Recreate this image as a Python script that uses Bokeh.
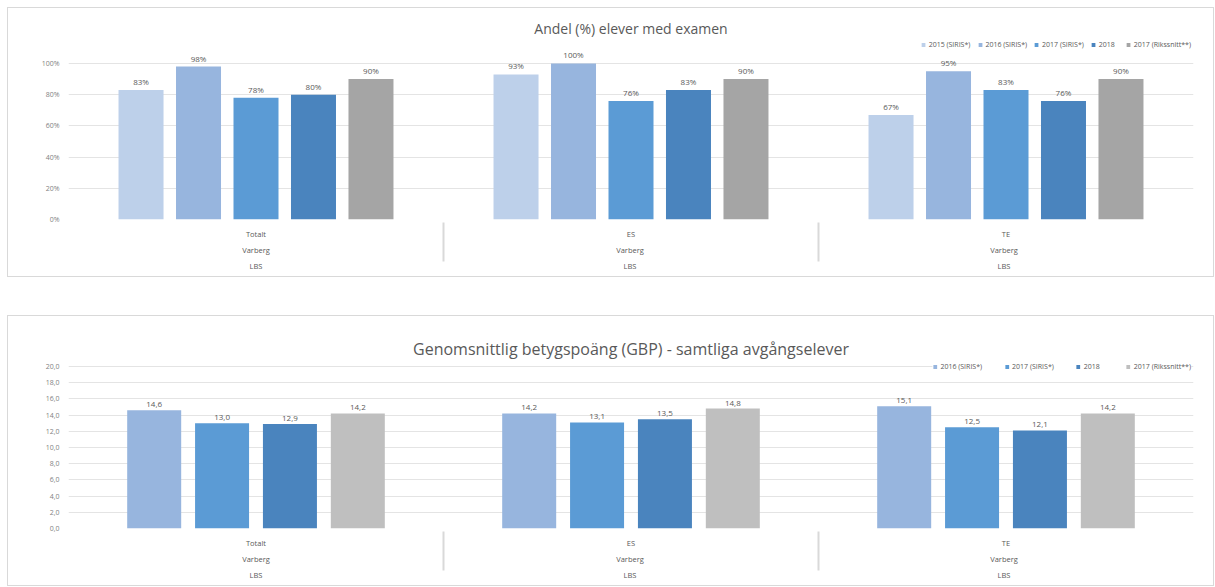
from bokeh.plotting import figure
from bokeh.models import (FactorRange, ColumnDataSource, Legend, LegendItem,
                          CustomJSTickFormatter, FixedTicker, Range1d, Spacer, Title)
from bokeh.transform import dodge
from bokeh.layouts import column, row
from bokeh.core.properties import value
from bokeh.embed import file_html
from bokeh.resources import INLINE

# ---------------- data ----------------
groups = ["Totalt", "ES", "TE"]
mid_label = "Varberg"
outer_label = "LBS"

andel_series = ["2015 (SIRIS*)", "2016 (SIRIS*)", "2017 (SIRIS*)", "2018", "2017 (Rikssnitt**)"]
andel_2015 = [83, 93, 67]
andel_2016 = [98, 100, 95]
andel_2017 = [78, 76, 83]
andel_2018 = [80, 83, 76]
andel_riks = [90, 90, 90]
andel_ticks = [0, 20, 40, 60, 80, 100]

gbp_series = ["2016 (SIRIS*)", "2017 (SIRIS*)", "2018", "2017 (Rikssnitt**)"]
gbp_2016 = [14.6, 14.2, 15.1]
gbp_2017 = [13.0, 13.1, 12.5]
gbp_2018 = [12.9, 13.5, 12.1]
gbp_riks = [14.2, 14.8, 14.2]
gbp_ticks = [0, 2, 4, 6, 8, 10, 12, 14, 16, 18, 20]

FONT = "Open Sans"
TEXT = "#595959"
AXIS_TEXT = "#7f7f7f"

# unique factors per group (same visible text, separate cells like the original)
factors = [(outer_label + " " * i, mid_label + " " * i, g) for i, g in enumerate(groups)]


def make_chart(title, title_size, series_names, series_vals, colors, labels_fmt,
               y_end, ticks, tick_code, height, top_border, bottom_border,
               stride, bar_w, legend_spacing):
    p = figure(x_range=FactorRange(*factors, range_padding=0, group_padding=0,
                                   subgroup_padding=0, factor_padding=0),
               y_range=Range1d(0, y_end),
               width=1205, height=height, output_backend="svg",
               toolbar_location=None, title=None)
    p.min_border_left = 60
    p.min_border_right = 20
    p.min_border_top = top_border
    p.min_border_bottom = bottom_border
    p.outline_line_color = None
    p.border_fill_color = "white"
    p.styles = {"box-shadow": "0 0 0 1px #d9d9d9"}

    n = len(series_names)
    items = []
    for i, (name, vals, col) in enumerate(zip(series_names, series_vals, colors)):
        off = (i - (n - 1) / 2) * stride
        src = ColumnDataSource(dict(x=factors, y=vals, lab=[labels_fmt(v) for v in vals]))
        r = p.vbar(x=dodge("x", off, range=p.x_range), top="y", width=bar_w,
                   color=col, line_color=None, source=src)
        p.text(x=dodge("x", off, range=p.x_range), y="y", text="lab", source=src,
               text_align="center", text_baseline="bottom", y_offset=-3,
               text_font_size="8px", text_color=TEXT, text_font=value(FONT))
        items.append(LegendItem(label=name, renderers=[r]))

    legend = Legend(items=items, orientation="horizontal", location="top_right",
                    margin=2, padding=0, spacing=legend_spacing,
                    glyph_width=5, glyph_height=5, label_standoff=3,
                    label_text_font_size="7px", label_text_color=TEXT,
                    label_text_font=FONT, border_line_color=None,
                    background_fill_color="white", background_fill_alpha=1.0,
                    label_height=8)
    p.add_layout(legend)

    t = Title(text=title, align="center", text_font_size=title_size,
              text_font=FONT, text_color=TEXT, text_font_style="normal",
              standoff=2)
    p.add_layout(t, "above")

    p.yaxis.ticker = FixedTicker(ticks=ticks)
    p.yaxis.formatter = CustomJSTickFormatter(code=tick_code)
    p.yaxis.axis_line_color = None
    p.yaxis.major_tick_line_color = None
    p.yaxis.minor_tick_line_color = None
    p.yaxis.major_label_text_font_size = "7px"
    p.yaxis.major_label_text_color = AXIS_TEXT
    p.yaxis.major_label_text_font = FONT
    p.yaxis.major_label_standoff = 3

    p.ygrid.ticker = FixedTicker(ticks=ticks)
    p.ygrid.grid_line_color = "#e4e4e4"
    p.xgrid.grid_line_color = None

    ax = p.xaxis[0]
    ax.axis_line_color = None
    ax.major_tick_line_color = None
    ax.minor_tick_line_color = None
    ax.major_label_text_font_size = "7.5px"
    ax.major_label_text_color = TEXT
    ax.major_label_text_font = FONT
    ax.major_label_standoff = 3
    ax.subgroup_text_font_size = "7.5px"
    ax.subgroup_text_color = TEXT
    ax.subgroup_text_font = FONT
    ax.subgroup_text_font_style = "normal"
    ax.group_text_font_size = "7.5px"
    ax.group_text_color = TEXT
    ax.group_text_font = FONT
    ax.group_text_font_style = "normal"
    ax.separator_line_color = "#d9d9d9"
    return p


p1 = make_chart(
    "Andel (%) elever med examen", "14px", andel_series,
    [andel_2015, andel_2016, andel_2017, andel_2018, andel_riks],
    ["#bdd0ea", "#97b5de", "#5b9bd5", "#4a84be", "#a5a5a5"],
    lambda v: f"{v}%", 116, andel_ticks, "return tick + '%';",
    268, 30, 57, 0.1533, 0.12, 7)

p2 = make_chart(
    "Genomsnittlig betygspoäng (GBP) - samtliga avgångselever", "16px", gbp_series,
    [gbp_2016, gbp_2017, gbp_2018, gbp_riks],
    ["#97b5de", "#5b9bd5", "#4a84be", "#bfbfbf"],
    lambda v: f"{v:.1f}".replace(".", ","), 20.74, gbp_ticks,
    "return tick.toFixed(1).replace('.', ',');",
    269, 44, 57, 0.181, 0.144, 22)

layout = row(Spacer(width=8, height=10),
             column(Spacer(height=8, width=1205), p1, Spacer(height=40, width=1205), p2,
                    spacing=0),
             spacing=0)
open("out.html", "w").write(file_html(layout, INLINE))
